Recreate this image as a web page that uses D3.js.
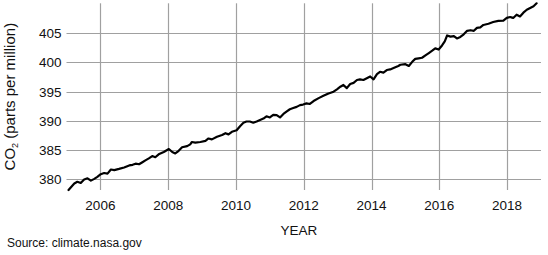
<!doctype html>
<html>
<head>
<meta charset="utf-8">
<script src="https://d3js.org/d3.v7.min.js"></script>
<style>
  body { margin: 0; background: #fff; }
  svg { display: block; font-family: "Liberation Sans", Arial, sans-serif; }
  .grid line { stroke: #a0a0a0; stroke-width: 1.2px; }
  .tick-label { font-size: 13.5px; fill: #111; }
</style>
</head>
<body>
<svg id="chart" width="548" height="255"></svg>
<script>
// CO2 readings (decimal year, ppm)
var years = [2005.06, 2005.23, 2005.32, 2005.42, 2005.52, 2005.62, 2005.72, 2005.82, 2005.91,
  2006.01, 2006.11, 2006.21, 2006.31, 2006.41, 2006.55, 2006.70, 2006.85, 2006.95,
  2007.04, 2007.14, 2007.24, 2007.34, 2007.43, 2007.53, 2007.62, 2007.72, 2007.87,
  2008.02, 2008.12, 2008.21, 2008.31, 2008.41, 2008.56, 2008.65, 2008.70, 2008.80, 2008.95,
  2009.10, 2009.19, 2009.29, 2009.44, 2009.59, 2009.69, 2009.78, 2009.88,
  2010.02, 2010.12, 2010.22, 2010.31, 2010.41, 2010.51, 2010.61, 2010.71, 2010.81, 2010.90,
  2011.00, 2011.10, 2011.20, 2011.30, 2011.40, 2011.49, 2011.59, 2011.69, 2011.79, 2011.89, 2011.98,
  2012.08, 2012.18, 2012.29, 2012.44, 2012.58, 2012.73, 2012.88, 2012.98,
  2013.08, 2013.17, 2013.27, 2013.37, 2013.47, 2013.57, 2013.66, 2013.76, 2013.86, 2013.96,
  2014.06, 2014.16, 2014.25, 2014.35, 2014.45, 2014.55, 2014.65, 2014.79, 2014.85,
  2015.00, 2015.10, 2015.20, 2015.29, 2015.39, 2015.49, 2015.59, 2015.69, 2015.79, 2015.88, 2015.98,
  2016.08, 2016.16, 2016.23, 2016.33, 2016.43, 2016.52, 2016.62, 2016.72, 2016.82, 2016.92,
  2017.02, 2017.11, 2017.21, 2017.30, 2017.45, 2017.59, 2017.74, 2017.89, 2017.99,
  2018.09, 2018.18, 2018.28, 2018.38, 2018.48, 2018.58, 2018.68, 2018.78, 2018.87];

var co2 = [378.2, 379.3, 379.6, 379.4, 380.0, 380.2, 379.8, 380.1, 380.45,
  380.9, 381.1, 381.0, 381.7, 381.6, 381.8, 382.05, 382.4, 382.5,
  382.7, 382.6, 382.95, 383.3, 383.6, 384.0, 383.8, 384.3, 384.7,
  385.2, 384.7, 384.45, 384.9, 385.5, 385.7, 386.0, 386.4, 386.3, 386.4,
  386.6, 387.0, 386.85, 387.3, 387.6, 387.9, 387.7, 388.15,
  388.4, 389.1, 389.7, 389.9, 389.9, 389.7, 389.9, 390.15, 390.4, 390.8,
  390.6, 391.05, 391.0, 390.6, 391.2, 391.6, 392.0, 392.2, 392.4, 392.7, 392.8,
  393.0, 392.9, 393.4, 393.9, 394.3, 394.7, 395.0, 395.4,
  395.85, 396.15, 395.6, 396.3, 396.5, 397.0, 397.1, 397.0, 397.3, 397.6,
  397.1, 398.0, 398.4, 398.25, 398.7, 398.8, 399.05, 399.4, 399.6,
  399.7, 399.4, 400.1, 400.6, 400.7, 400.8, 401.2, 401.6, 402.0, 402.4, 402.2,
  402.9, 403.6, 404.6, 404.4, 404.5, 404.1, 404.35, 404.8, 405.4, 405.5,
  405.4, 405.9, 406.0, 406.4, 406.6, 406.9, 407.1, 407.15, 407.6,
  407.75, 407.6, 408.15, 407.85, 408.5, 409.0, 409.3, 409.6, 410.1];

var xTicks = [2006, 2008, 2010, 2012, 2014, 2016, 2018];
var yTicks = [380, 385, 390, 395, 400, 405];

var data = years.map(function(yr, i) { return {year: yr, value: co2[i]}; });

var plotLeft = 66.5, plotRight = 541, plotTop = 3.3, plotBottom = 190;

var svg = d3.select("#chart");

var x = d3.scaleLinear().domain([2005, 2019]).range([plotLeft, plotRight]);
var y = d3.scaleLinear().domain([378.2, 410.1]).range([plotBottom, plotTop]);

var grid = svg.append("g").attr("class", "grid");

grid.selectAll(".hline")
  .data(yTicks)
  .enter().append("line")
  .attr("class", "hline")
  .attr("x1", plotLeft).attr("x2", plotRight)
  .attr("y1", function(d) { return Math.round(y(d)) + 0.5; })
  .attr("y2", function(d) { return Math.round(y(d)) + 0.5; });

grid.selectAll(".vline")
  .data(xTicks)
  .enter().append("line")
  .attr("class", "vline")
  .attr("y1", plotTop).attr("y2", plotBottom)
  .attr("x1", function(d) { return Math.round(x(d)) + 0.5; })
  .attr("x2", function(d) { return Math.round(x(d)) + 0.5; });

svg.selectAll(".ylab")
  .data(yTicks)
  .enter().append("text")
  .attr("class", "tick-label")
  .attr("x", 61.5)
  .attr("y", function(d) { return y(d); })
  .attr("dy", "0.36em")
  .attr("text-anchor", "end")
  .text(function(d) { return d; });

svg.selectAll(".xlab")
  .data(xTicks)
  .enter().append("text")
  .attr("class", "tick-label")
  .attr("x", function(d) { return x(d); })
  .attr("y", 210)
  .attr("text-anchor", "middle")
  .text(function(d) { return d; });

var line = d3.line()
  .x(function(d) { return x(d.year); })
  .y(function(d) { return y(d.value); });

svg.append("path")
  .datum(data)
  .attr("d", line)
  .attr("fill", "none")
  .attr("stroke", "#000")
  .attr("stroke-width", 2.2)
  .attr("stroke-linejoin", "round")
  .attr("stroke-linecap", "round");

// axis titles
svg.append("text")
  .attr("x", 299)
  .attr("y", 235)
  .attr("text-anchor", "middle")
  .style("font-size", "13.5px")
  .style("fill", "#111")
  .text("YEAR");

var ylab = svg.append("text")
  .attr("transform", "translate(14.5," + ((plotTop + plotBottom) / 2) + ") rotate(-90)")
  .attr("text-anchor", "middle")
  .style("font-size", "15px")
  .style("fill", "#111");
ylab.append("tspan").text("CO");
ylab.append("tspan").attr("dy", 3).style("font-size", "9px").text("2");
ylab.append("tspan").attr("dy", -3).text(" (parts per million)");

svg.append("text")
  .attr("x", 7)
  .attr("y", 247)
  .style("font-size", "12px")
  .style("fill", "#111")
  .text("Source: climate.nasa.gov");
</script>
</body>
</html>
